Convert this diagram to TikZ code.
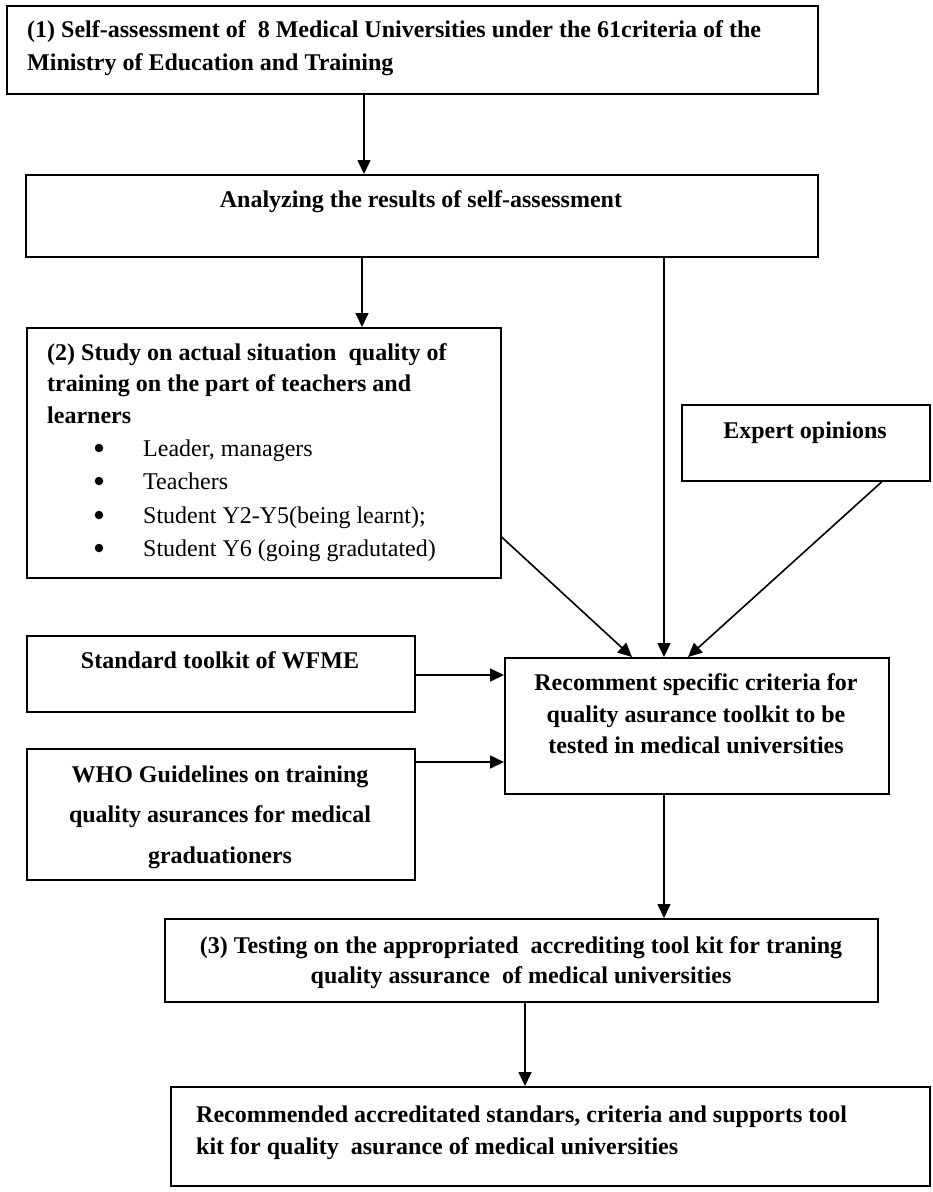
\documentclass[tikz,border=0pt]{standalone}
\usepackage{fontspec}
\setmainfont{Liberation Serif}
\usetikzlibrary{arrows.meta}
\begin{document}
\begin{tikzpicture}[x=1pt,y=-1pt,
  box/.style={draw, line width=1.6pt, inner sep=0pt, anchor=north west},
  bt/.style={font=\fontsize{24}{33}\selectfont\bfseries, inner sep=0pt},
  rt/.style={font=\fontsize{24}{33}\selectfont, inner sep=0pt},
  dot/.style={circle, fill=black, inner sep=0pt, minimum size=8.5pt},
  arr/.style={line width=1.6pt, -{Triangle[length=14pt,width=13pt]}}]
\useasboundingbox (0,0) rectangle (933,1192);
% boxes
\node[box, minimum width=811pt, minimum height=88pt] (b1) at (6,5) {};
\node[box, minimum width=792pt, minimum height=82pt] (b2) at (25,174) {};
\node[box, minimum width=474pt, minimum height=250pt] (b3) at (26,327) {};
\node[box, minimum width=248pt, minimum height=76pt] (ex) at (681,404) {};
\node[box, minimum width=388pt, minimum height=76pt] (std) at (26,635) {};
\node[box, minimum width=388pt, minimum height=131pt] (who) at (26,748) {};
\node[box, minimum width=384pt, minimum height=136pt] (rec) at (504,657) {};
\node[box, minimum width=713pt, minimum height=83pt] (b4) at (164,918) {};
\node[box, minimum width=759pt, minimum height=99pt] (b5) at (170,1086) {};
% texts
\node[bt, anchor=base west] (t1a) at (27,37) {(1) Self-assessment of\ \ 8 Medical Universities under the 61criteria of the};
\node[bt, anchor=base west] (t1b) at (27,70) {Ministry of Education and Training};
\node[bt, anchor=base] (t2) at (421,207) {Analyzing the results of self-assessment};
\node[bt, anchor=base west] (t3a) at (47,360) {(2) Study on actual situation\ \ quality of};
\node[bt, anchor=base west] (t3b) at (47,391) {training on the part of teachers and};
\node[bt, anchor=base west] (t3c) at (47,423) {learners};
\node[dot] (u1) at (99,448) {};
\node[dot] (u2) at (99,481) {};
\node[dot] (u3) at (99,515) {};
\node[dot] (u4) at (99,548) {};
\node[rt, anchor=base west] (i1) at (143,456) {Leader, managers};
\node[rt, anchor=base west] (i2) at (143,489) {Teachers};
\node[rt, anchor=base west] (i3) at (143,523) {Student Y2-Y5(being learnt);};
\node[rt, anchor=base west] (i4) at (143,556) {Student Y6 (going gradutated)};
\node[bt, anchor=base] (te) at (805,438) {Expert opinions};
\node[bt, anchor=base] (ts) at (220,668) {Standard toolkit of WFME};
\node[bt, anchor=base] (tw1) at (220,782) {WHO Guidelines on training};
\node[bt, anchor=base] (tw2) at (220,822) {quality asurances for medical};
\node[bt, anchor=base] (tw3) at (220,863) {graduationers};
\node[bt, anchor=base] (tr1) at (696,690) {Recomment specific criteria for};
\node[bt, anchor=base] (tr2) at (696,722) {quality asurance toolkit to be};
\node[bt, anchor=base] (tr3) at (696,753) {tested in medical universities};
\node[bt, anchor=base] (t4a) at (521,953) {(3) Testing on the appropriated\ \ accrediting tool kit for traning};
\node[bt, anchor=base] (t4b) at (521,983) {quality assurance\ \ of medical universities};
\node[bt, anchor=base west] (t5a) at (196,1122) {Recommended accreditated standars, criteria and supports tool};
\node[bt, anchor=base west] (t5b) at (196,1154) {kit for quality\ \ asurance of medical universities};
% connectors
\draw[arr] (364,0 |- b1.south) -- (364,0 |- b2.north);
\draw[arr] (362,0 |- b2.south) -- (362,0 |- b3.north);
\draw[arr] (664,0 |- b2.south) -- (664,0 |- rec.north);
\draw[arr] (b3.east |- 0,537) -- (632,0 |- rec.north);
\draw[arr] (882,0 |- ex.south) -- (688,0 |- rec.north);
\draw[arr] (std.east |- 0,675) -- (rec.west |- 0,675);
\draw[arr] (who.east |- 0,762) -- (rec.west |- 0,762);
\draw[arr] (664,0 |- rec.south) -- (664,0 |- b4.north);
\draw[arr] (525,0 |- b4.south) -- (525,0 |- b5.north);
\end{tikzpicture}
\end{document}
